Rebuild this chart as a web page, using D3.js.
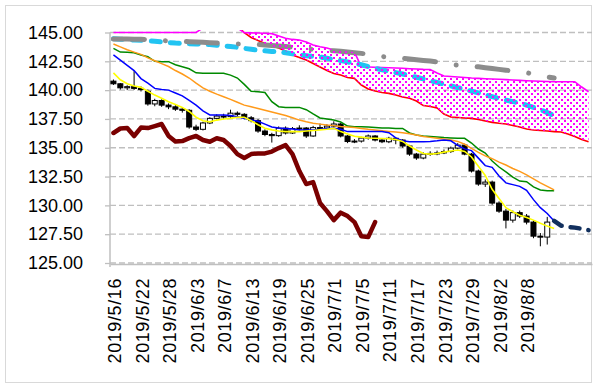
<!DOCTYPE html>
<html>
<head>
<meta charset="utf-8">
<script src="https://cdnjs.cloudflare.com/ajax/libs/d3/7.8.5/d3.min.js"></script>
<style>
  body { margin: 0; background: #fff; }
  svg { display: block; font-family: "Liberation Sans", Arial, sans-serif; }
</style>
</head>
<body>
<svg id="chart" width="595" height="387"></svg>
<script>
// trading days (index 0..63), 6 empty slots after for the forward cloud
const dates = ['2019/5/16','2019/5/17','2019/5/20','2019/5/21','2019/5/22','2019/5/23','2019/5/24','2019/5/27',
  '2019/5/28','2019/5/29','2019/5/30','2019/5/31','2019/6/3','2019/6/4','2019/6/5','2019/6/6','2019/6/7',
  '2019/6/10','2019/6/11','2019/6/12','2019/6/13','2019/6/14','2019/6/17','2019/6/18','2019/6/19','2019/6/20',
  '2019/6/21','2019/6/24','2019/6/25','2019/6/26','2019/6/27','2019/6/28','2019/7/1','2019/7/2','2019/7/3',
  '2019/7/4','2019/7/5','2019/7/8','2019/7/9','2019/7/10','2019/7/11','2019/7/12','2019/7/15','2019/7/16',
  '2019/7/17','2019/7/18','2019/7/19','2019/7/22','2019/7/23','2019/7/24','2019/7/25','2019/7/26','2019/7/29',
  '2019/7/30','2019/7/31','2019/8/1','2019/8/2','2019/8/5','2019/8/6','2019/8/7','2019/8/8','2019/8/9',
  '2019/8/12','2019/8/13','','','','','',''];
const labelIdx = [0,4,8,12,16,20,24,28,32,36,40,44,48,52,56,60];
const yTicks = [125,127.5,130,132.5,135,137.5,140,142.5,145];

const open = [140.78,140.55,140.20,140.30,140.15,139.90,138.80,139.10,138.70,138.55,138.35,138.25,136.80,136.60,137.15,137.55,
  137.75,137.70,138.00,137.90,137.60,137.35,136.45,136.15,136.05,136.70,136.28,136.67,136.71,136.02,136.75,136.71,
  136.88,137.06,136.02,135.54,135.58,135.84,136.02,135.67,135.52,135.82,135.67,135.15,134.45,134.11,134.45,134.51,
  134.55,134.67,134.97,135.23,134.45,132.98,131.85,132.02,130.20,129.50,128.72,129.37,129.07,128.55,127.33,127.25];
const high = [140.92,140.62,140.42,141.65,140.32,140.05,139.25,139.20,138.85,138.70,138.50,138.35,137.00,137.25,137.65,137.90,
  137.95,138.30,138.15,138.00,137.75,137.50,136.60,136.30,136.85,136.85,136.80,136.95,136.80,136.90,137.10,137.05,
  137.30,137.15,136.10,135.75,135.95,136.15,136.10,135.80,135.95,135.90,135.75,135.25,134.55,134.60,134.70,134.75,
  134.85,135.10,135.40,135.35,134.55,133.10,132.25,132.15,130.35,129.70,129.55,129.55,129.25,128.70,127.60,129.00];
const low = [140.45,140.05,140.00,140.02,139.88,138.65,138.60,138.55,138.35,138.20,138.05,136.65,136.45,136.50,137.05,137.45,
  137.50,137.60,137.75,137.45,137.20,136.30,136.00,135.45,135.95,136.15,136.20,136.50,135.85,135.95,136.55,136.60,
  136.75,135.90,135.40,135.40,135.45,135.70,135.55,135.40,135.40,135.30,135.00,134.30,133.95,134.00,134.30,134.35,
  134.45,134.55,134.85,134.35,132.85,131.70,131.60,130.05,129.35,128.00,128.50,128.90,128.35,127.15,126.45,126.60];
const close = [140.55,140.20,140.30,140.15,140.05,138.80,139.10,138.70,138.55,138.35,138.25,136.80,136.60,137.15,137.55,137.75,
  137.70,138.00,137.90,137.60,137.35,136.45,136.15,136.05,136.70,136.28,136.67,136.71,136.02,136.75,136.71,136.88,
  137.06,136.02,135.54,135.58,135.84,136.02,135.67,135.52,135.82,135.67,135.15,134.45,134.11,134.45,134.51,134.55,
  134.67,134.97,135.23,134.45,132.98,131.85,132.02,130.20,129.50,128.72,129.37,129.07,128.55,127.33,127.25,128.55];

const yellowLine = [141.5,140.9,140.55,140.35,140.24,139.9,139.57,139.3,139.0,138.75,138.5,138.15,137.65,137.35,137.25,137.4,
  137.5,137.55,137.65,137.65,137.35,137.0,136.7,136.55,136.45,136.4,136.4,136.4,136.45,136.5,136.55,136.6,136.68,
  136.4,136.2,136.0,135.92,135.85,135.82,135.8,135.78,135.72,135.55,135.15,134.8,134.5,134.45,134.5,134.62,134.72,
  134.8,134.68,134.2,133.4,132.6,131.4,130.6,129.8,129.45,129.15,128.95,128.72,128.45,128.2,128.0];
const blueLine = [143.05,142.6,142.15,141.7,141.0,140.6,140.15,140.05,140.0,139.75,139.5,139.1,138.7,138.2,137.85,137.85,
  137.85,137.8,137.7,137.55,137.4,137.3,137.05,136.8,136.72,136.68,136.62,136.55,136.54,136.54,136.6,136.68,136.7,
  136.6,136.4,136.4,136.4,136.4,136.4,136.4,136.3,135.85,135.6,135.52,135.52,135.52,135.55,135.6,135.67,135.6,
  135.2,134.9,134.75,134.1,133.45,133.3,132.55,131.95,131.8,131.65,131.3,130.5,129.8,129.3,128.65];
const greenLine = [143.63,143.3,143.28,143.25,143.05,142.9,142.5,142.47,142.47,142.2,142.03,141.85,141.5,141.46,141.46,141.46,
  141.46,141.3,141.05,140.5,139.9,139.86,139.8,139.0,138.56,138.5,138.5,138.5,138.3,137.93,137.58,137.49,137.4,
  137.23,136.88,136.82,136.82,136.8,136.75,136.71,136.71,136.68,136.68,136.28,136.1,136.02,135.98,135.93,135.88,
  135.85,135.82,135.82,135.41,134.89,134.54,133.85,133.33,132.9,132.46,132.11,132.05,131.6,131.33,131.27,131.27];
const orangeLine = [144.0,143.75,143.5,143.3,143.1,142.8,142.55,142.3,142.05,141.7,141.4,141.05,140.6,140.2,139.9,139.65,
  139.43,139.2,138.95,138.7,138.55,138.4,138.25,138.1,137.95,137.8,137.6,137.4,137.25,137.12,137.05,136.97,136.92,
  136.85,136.8,136.75,136.68,136.6,136.55,136.48,136.42,136.36,136.3,136.22,136.1,135.98,135.9,135.82,135.75,135.67,
  135.55,135.3,134.95,134.6,134.3,134.05,133.75,133.5,133.2,132.95,132.65,132.3,131.95,131.65,131.35];
const grayLine = [144.44,144.44,144.43,144.42,144.41,144.38,144.34,144.3,144.27,144.25,144.23,144.2,144.18,144.15,144.12,
  144.09,144.06,144.03,144.0,143.99,143.98,143.96,143.92,143.88,143.83,143.78,143.72,143.66,143.6,143.54,143.5,143.45,
  143.41,143.37,143.31,143.25,143.19,143.1,143.0,142.92,142.86,142.8,142.76,142.7,142.64,142.58,142.52,142.45,142.35,
  142.22,142.16,142.12,142.09,142.02,141.95,141.87,141.8,141.73,141.67,141.58,141.51,141.4,141.28,141.15,141.05];
const cyanLine = [144.45,144.42,144.38,144.35,144.32,144.28,144.24,144.18,144.13,144.08,144.05,144.02,144.0,143.98,143.95,
  143.9,143.85,143.78,143.72,143.62,143.54,143.46,143.41,143.36,143.32,143.24,143.15,143.06,142.99,142.93,142.87,142.77,
  142.66,142.56,142.45,142.33,142.2,142.05,141.9,141.76,141.64,141.52,141.4,141.26,141.12,140.97,140.82,140.67,140.52,
  140.37,140.22,140.07,139.91,139.76,139.6,139.43,139.27,139.13,139.0,138.88,138.7,138.5,138.3,138.05,137.78];
const chikou = [136.28,136.67,136.71,136.02,136.75,136.71,136.88,137.06,136.02,135.54,135.58,135.84,136.02,135.67,135.52,
  135.82,135.67,135.15,134.45,134.11,134.45,134.51,134.51,134.67,134.97,135.23,134.45,132.98,131.85,132.02,130.2,
  129.5,128.72,129.37,129.07,128.55,127.33,127.25,128.55];
const spanUpper = [145.0,145.0,145.0,145.0,145.0,145.0,145.0,145.0,145.0,145.0,145.0,145.0,145.0,145.4,145.8,146.0,145.9,
  145.7,145.4,144.98,144.97,144.96,144.93,144.9,144.7,144.5,144.4,144.35,144.18,143.91,143.77,143.65,143.48,143.44,
  143.35,143.3,142.03,142.0,141.98,141.96,141.94,141.92,141.9,141.86,141.83,141.8,141.79,141.48,141.22,141.18,141.14,
  141.1,141.05,141.02,140.99,140.96,140.94,140.91,140.88,140.85,140.82,140.79,140.77,140.75,140.73,140.73,140.73,
  140.73,140.27,139.86];
const spanLower = [147.6,147.5,147.4,147.3,147.2,147.0,146.9,146.8,146.6,146.5,146.4,146.3,146.2,146.1,146.0,145.9,145.8,
  145.7,145.6,144.98,144.57,144.3,144.05,143.83,143.65,143.39,143.05,142.83,142.61,142.31,142.0,141.7,141.44,141.31,
  141.09,141.02,140.44,140.1,139.92,139.79,139.72,139.57,139.4,139.29,139.05,138.66,138.58,138.45,137.93,137.67,137.62,
  137.58,137.55,137.45,137.32,137.2,137.12,137.06,136.93,136.8,136.62,136.54,136.5,136.45,136.4,136.36,136.19,135.97,
  135.71,135.52];
const navyStart = 64;
const navyLine = [128.65,128.25,128.12,128.07,127.97,127.85];

const svg = d3.select('#chart');
const plotL = 110, plotR = 592, plotT = 32.5, plotB = 263;

svg.append('rect')
  .attr('x', 5.5).attr('y', 5.5).attr('width', 586).attr('height', 377)
  .attr('fill', 'none').attr('stroke', '#d9d9d9');

const x = d3.scaleBand().domain(d3.range(dates.length)).range([plotL, plotR]).padding(0);
const cx = i => x(i) + x.bandwidth() / 2;
const y = d3.scaleLinear().domain([125, 145]).range([plotB, plotT]);

const defs = svg.append('defs');
defs.append('clipPath').attr('id', 'clipLines')
  .append('rect').attr('x', plotL).attr('y', plotT - 2.5).attr('width', plotR - plotL).attr('height', plotB - plotT + 2.5);
defs.append('clipPath').attr('id', 'clipFill')
  .append('rect').attr('x', plotL).attr('y', plotT).attr('width', plotR - plotL).attr('height', plotB - plotT);
const pat = defs.append('pattern').attr('id', 'dots')
  .attr('patternUnits', 'userSpaceOnUse').attr('width', 6).attr('height', 6);
pat.append('rect').attr('x', 0).attr('y', 0).attr('width', 2).attr('height', 2).attr('fill', '#ff00ff');
pat.append('rect').attr('x', 3).attr('y', 3).attr('width', 2).attr('height', 2).attr('fill', '#ff00ff');

// gridlines
svg.append('g').selectAll('line').data(yTicks).join('line')
  .attr('x1', plotL).attr('x2', plotR)
  .attr('y1', d => y(d)).attr('y2', d => y(d))
  .attr('stroke', '#bfbfbf').attr('stroke-width', 1.3).attr('stroke-dasharray', '6,3');

// axes
const yAxis = svg.append('g').attr('transform', `translate(${plotL},0)`)
  .call(d3.axisLeft(y).tickValues(yTicks).tickFormat(d3.format('.2f')).tickSize(5).tickPadding(22));
yAxis.select('.domain').attr('stroke', '#bfbfbf').attr('stroke-width', 1.5).attr('d', `M0,${plotT}V${plotB + 4}`);
yAxis.selectAll('.tick line').attr('stroke', '#bfbfbf').attr('stroke-width', 1.3);
yAxis.selectAll('text').attr('font-size', 18).attr('fill', '#000');

const xAxis = svg.append('g').attr('transform', `translate(0,${plotB + 1})`)
  .call(d3.axisBottom(x).tickValues(labelIdx).tickFormat(i => dates[i]).tickSize(0));
xAxis.select('.domain').attr('stroke', '#bfbfbf').attr('stroke-width', 1.5);
xAxis.selectAll('text')
  .attr('font-size', 18).attr('fill', '#000')
  .attr('letter-spacing', 0.6)
  .attr('text-anchor', 'end')
  .attr('transform', 'rotate(-90)')
  .attr('x', -14).attr('y', 0).attr('dy', '0.42em');

const plot = svg.append('g').attr('clip-path', 'url(#clipLines)');
const lineOf = (start = 0) => d3.line().x((d, i) => cx(i + start)).y(d => y(d));

// cloud
const idx = d3.range(spanUpper.length);
svg.append('path').attr('clip-path', 'url(#clipFill)')
  .datum(idx)
  .attr('d', d3.area().x(i => cx(i)).y0(i => y(spanLower[i])).y1(i => y(spanUpper[i])))
  .attr('fill', 'url(#dots)');

plot.append('path').datum(spanLower).attr('d', lineOf())
  .attr('fill', 'none').attr('stroke', '#ff0000').attr('stroke-width', 1.6);
plot.append('path').datum(spanUpper).attr('d', lineOf())
  .attr('fill', 'none').attr('stroke', '#ff00ff').attr('stroke-width', 1.6);

plot.append('path').datum(cyanLine).attr('d', lineOf())
  .attr('fill', 'none').attr('stroke', '#22c4f2').attr('stroke-width', 5)
  .attr('stroke-linecap', 'round').attr('stroke-dasharray', '9,10');
plot.append('path').datum(grayLine).attr('d', lineOf())
  .attr('fill', 'none').attr('stroke', '#8c8c8c').attr('stroke-width', 5)
  .attr('stroke-linecap', 'round').attr('stroke-dasharray', '31,21,0.01,21');

// candles
const bw = 5;
const candles = plot.append('g').selectAll('g').data(d3.range(close.length)).join('g');
candles.append('line')
  .attr('x1', i => cx(i)).attr('x2', i => cx(i))
  .attr('y1', i => y(high[i])).attr('y2', i => y(low[i]))
  .attr('stroke', '#000').attr('stroke-width', 1);
candles.append('rect')
  .attr('x', i => cx(i) - bw / 2)
  .attr('y', i => y(Math.max(open[i], close[i])))
  .attr('width', bw)
  .attr('height', i => Math.max(1, Math.abs(y(open[i]) - y(close[i]))))
  .attr('fill', i => close[i] >= open[i] ? '#fff' : '#000')
  .attr('stroke', '#000').attr('stroke-width', 1);

plot.append('path').datum(greenLine).attr('d', lineOf())
  .attr('fill', 'none').attr('stroke', '#008a00').attr('stroke-width', 1.5);
plot.append('path').datum(orangeLine).attr('d', lineOf())
  .attr('fill', 'none').attr('stroke', '#ff9a1a').attr('stroke-width', 1.5);
plot.append('path').datum(blueLine).attr('d', lineOf())
  .attr('fill', 'none').attr('stroke', '#0000ff').attr('stroke-width', 1.5);
plot.append('path').datum(yellowLine).attr('d', lineOf())
  .attr('fill', 'none').attr('stroke', '#ffff00').attr('stroke-width', 1.6);

plot.append('path').datum(chikou).attr('d', lineOf())
  .attr('fill', 'none').attr('stroke', '#7a0000').attr('stroke-width', 4.5)
  .attr('stroke-linejoin', 'round').attr('stroke-linecap', 'round');

plot.append('path').datum(navyLine).attr('d', lineOf(navyStart))
  .attr('fill', 'none').attr('stroke', '#12305e').attr('stroke-width', 4.5)
  .attr('stroke-linecap', 'round').attr('stroke-dasharray', '9,9');
</script>
</body>
</html>
